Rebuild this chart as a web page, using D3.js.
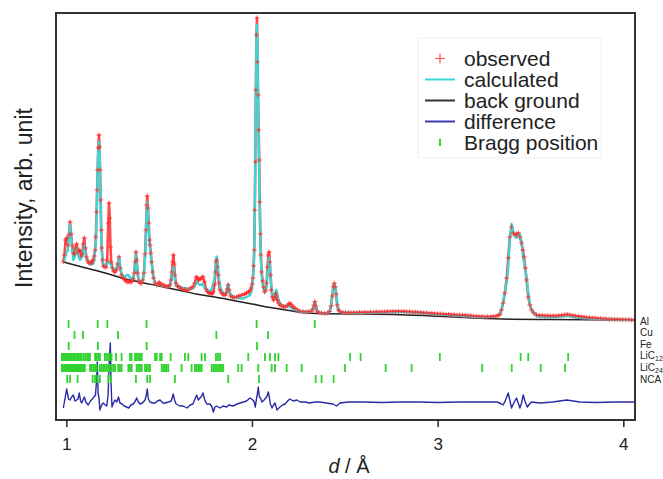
<!DOCTYPE html>
<html><head><meta charset="utf-8">
<script src="https://cdn.jsdelivr.net/npm/d3@7"></script>
<style>
body{margin:0;background:#fff;}
svg{display:block;font-family:"Liberation Sans",Arial,Helvetica,sans-serif;}
</style>
</head><body>
<svg id="c" width="663" height="479"></svg>
<script>
// ---------------- DATA ----------------
const dSpacing = [
0.984,0.990,0.996,1.002,1.008,1.014,1.020,1.026,1.032,1.038,
1.044,1.050,1.056,1.062,1.068,1.074,1.080,1.086,1.092,1.097,
1.102,1.108,1.115,1.122,1.128,1.135,1.140,1.145,1.150,1.155,
1.159,1.163,1.166,1.169,1.172,1.176,1.179,1.182,1.185,1.188,
1.191,1.195,1.200,1.208,1.214,1.220,1.226,1.230,1.234,1.238,
1.242,1.248,1.255,1.262,1.270,1.277,1.284,1.290,1.298,1.306,
1.316,1.326,1.334,1.344,1.352,1.360,1.366,1.371,1.375,1.379,
1.384,1.390,1.397,1.405,1.412,1.418,1.424,1.429,1.433,1.436,
1.440,1.444,1.448,1.451,1.455,1.460,1.465,1.470,1.478,1.487,
1.495,1.500,1.508,1.515,1.522,1.532,1.542,1.550,1.558,1.564,
1.569,1.573,1.577,1.581,1.585,1.590,1.597,1.605,1.615,1.625,
1.637,1.648,1.660,1.672,1.684,1.692,1.700,1.706,1.712,1.720,
1.728,1.736,1.744,1.752,1.760,1.768,1.776,1.785,1.792,1.798,
1.803,1.807,1.810,1.814,1.818,1.822,1.828,1.837,1.846,1.855,
1.862,1.867,1.872,1.877,1.885,1.895,1.905,1.918,1.930,1.945,
1.960,1.971,1.982,1.990,1.996,2.001,2.005,2.009,2.012,2.015,
2.018,2.021,2.024,2.027,2.030,2.033,2.036,2.039,2.042,2.045,
2.048,2.052,2.057,2.062,2.068,2.074,2.079,2.084,2.088,2.092,
2.096,2.100,2.105,2.110,2.116,2.122,2.127,2.132,2.137,2.143,
2.151,2.160,2.170,2.180,2.190,2.198,2.205,2.213,2.222,2.232,
2.245,2.260,2.275,2.290,2.305,2.318,2.328,2.334,2.339,2.344,
2.350,2.360,2.375,2.390,2.405,2.418,2.426,2.432,2.438,2.443,
2.448,2.453,2.459,2.466,2.474,2.489,2.504,2.519,2.534,2.549,
2.564,2.579,2.594,2.609,2.624,2.639,2.654,2.669,2.684,2.699,
2.714,2.729,2.744,2.759,2.774,2.789,2.804,2.819,2.834,2.849,
2.864,2.879,2.894,2.909,2.924,2.939,2.954,2.969,2.984,2.999,
3.014,3.029,3.044,3.059,3.074,3.089,3.104,3.119,3.134,3.149,
3.164,3.179,3.194,3.209,3.224,3.239,3.254,3.269,3.284,3.299,
3.314,3.325,3.335,3.344,3.353,3.362,3.372,3.380,3.389,3.398,
3.407,3.416,3.425,3.434,3.443,3.452,3.459,3.465,3.472,3.479,
3.488,3.497,3.506,3.519,3.533,3.548,3.563,3.578,3.593,3.608,
3.623,3.638,3.653,3.668,3.683,3.698,3.713,3.728,3.743,3.758,
3.773,3.788,3.803,3.818,3.833,3.848,3.863,3.878,3.893,3.908,
3.923,3.938,3.953,3.968,3.983,3.998,4.013,4.028,4.043,4.058];

const observed = [
68.3,75,90,92,85,95,108,96,84,77,
76,82,86,78,80,79,74,76,86,92,
82,73,69,67,66.7,67,69,70,74,80,
93,118,140,160,182,195,183,160,130,100,
82,70,64,63,63,70,107,127,112,83,
68,62,59,58,60,66,73,62,55,52,
50,48,48.3,48,48.3,51,57,68,78,70,
57,49,47,47,50,57,76,100,125,134,
122,107,90,85,77,68,58,52,47,45,
46,47.7,46,45,45,44,43.5,43.3,45,50,
58,68,75,66,55,47,44,43.3,42,41,
40.5,40,40.5,42,43.3,47,53,52,50,50.7,
52,53.3,48,41,38.5,37,36.7,36,38,45,
58,68,70,63,55,47,40,36.7,35.5,35,
37,41,45,40,34,33,32.5,33,34,35,
36,37,38,39.5,42,46,52,64,80,120,
168,240,295,312,268,235,200,170,128,96,
75,58,49,43,38,40,47,63,75,78,
68,55,40,33,30,33,36.7,34,30,27,
25,24,23.5,23,24.5,26,26.7,25,23,21.7,
20,18.5,18.3,18,18.3,18.5,21,25,28.3,24,
19,17.5,17,16.7,17,18.5,24,34,43.3,46.7,
43,36,25,20,18.3,17.6,17.2,17.4,17.1,17.5,
17.3,17.6,17.4,17.7,17.5,17.9,17.7,18.1,17.9,18.2,
18.0,18.4,18.2,18.6,18.4,18.7,18.4,18.6,18.2,18.3,
17.9,18.0,17.6,17.5,17.1,17.1,16.7,16.7,16.3,16.3,
15.9,15.9,15.5,15.6,15.2,15.3,14.9,15.0,14.6,14.6,
14.2,14.2,13.8,13.8,13.4,13.4,13.1,13.3,13.2,13.6,
13.9,14.5,15.5,20,27,37,52,72,93,103,
97,95,96,97,93,87,80,73,62,50,
33,25,20,17,15.0,14.4,14.5,14.1,14.3,13.9,
14.2,14.0,14.4,14.6,15.1,15.5,15.0,14.5,13.9,13.6,
13.1,12.9,12.4,12.3,11.9,11.9,11.5,11.5,11.1,11.1,
10.8,10.9,10.6,10.7,10.4,10.4,10.2,10.3,10.1,10.0];

const calculated = [
68,70,75,78,80,92,106,94,80,70,
72,78,82,76,72,70,72,74,80,86,
78,72,69,67,66,66,66,66,70,78,
88,110,135,157,178,188,180,158,128,98,
80,70,64,63,64,66,68,68,67,66,
64,62,60,59,62,66,73,63,56,54,
53,55,55,52,51,52,57,68,76,68,
57,50,48,48,50,56,72,95,120,128,
117,100,86,82,74,67,58,52,47,45,
45,46,45,44,44,44,43,43,44,49,
53,60,63,58,50,45,44,43,43,42,
42,41.5,41,41,42,44,48,48,46,45,
46,45,43,41,40,39,39,42,47,52,
62,72,73.3,68,60,52,44,39,37,36,
38,42,46,41,35,34,33,32.5,32,31.5,
32,33,34,35,38,43,50,62,78,118,
165,232,290,305,272,228,190,155,122,90,
70,56,47,42,38,40,45,58,68,72,
65,54,42,35,31,34,38,40,36,30,
27,25,24,24,24,23.5,23,22,21,20,
19.5,18.5,18.3,18,18.3,18.5,21,24,28,24,
19.5,17.5,17,16.7,17,18.5,24,33,42,46,
44,38,27,21,18.3,17.3,17.2,17.1,17.0,17.0,
17.0,17.0,17.0,17.1,17.1,17.2,17.3,17.4,17.5,17.6,
17.7,17.8,17.9,18.0,18.0,18.1,18.1,18.0,17.9,17.8,
17.6,17.4,17.2,17.0,16.8,16.6,16.4,16.1,15.9,15.7,
15.5,15.3,15.1,14.9,14.7,14.5,14.3,14.2,14.0,13.8,
13.6,13.4,13.2,13.0,12.9,12.8,12.8,12.9,13.1,13.4,
13.9,15,17,21,29,38,48,62,90,106,
99,94,92,95,96,88,74,68,60,53,
37,26,19.5,16,14.0,13.4,13.1,12.9,12.9,12.8,
12.8,12.9,13.1,13.4,13.8,14.1,13.6,13.0,12.6,12.3,
12.0,11.8,11.6,11.4,11.2,11.1,11.0,10.9,10.8,10.7,
10.6,10.5,10.5,10.4,10.4,10.3,10.2,10.2,10.1,10.0];

const bgD = [0.984,1.05,1.1,1.2,1.3,1.4,1.5,1.6,1.7,1.8,1.9,2.0,2.1,2.2,2.3,2.4,2.6,2.8,3.0,3.2,3.4,3.6,3.8,4.058];
const background = [68,64.8,62.3,57.5,52,47.7,44,40,36,33,29.5,26,22.5,19.5,17.0,16.3,16.0,15.3,13.8,12.0,10.8,10.5,10.3,10.0];

const diffD = [0.984,1.002,1.012,1.020,1.029,1.038,1.047,1.056,1.063,1.070,1.077,1.083,1.090,1.097,1.105,1.118,1.130,1.145,1.157,1.164,
1.167,1.171,1.176,1.181,1.190,1.199,1.210,1.218,1.225,1.231,1.237,1.241,1.246,1.254,1.262,1.272,1.281,1.289,1.300,1.312,
1.325,1.336,1.348,1.360,1.372,1.379,1.388,1.397,1.410,1.424,1.431,1.436,1.442,1.451,1.465,1.478,1.490,1.505,1.520,1.532,
1.550,1.565,1.576,1.583,1.591,1.612,1.630,1.650,1.668,1.682,1.695,1.702,1.711,1.720,1.729,1.736,1.746,1.756,1.774,1.785,
1.792,1.800,1.810,1.818,1.828,1.845,1.864,1.875,1.898,1.920,1.935,1.955,1.971,1.989,2.005,2.012,2.018,2.024,2.030,2.034,
2.040,2.046,2.054,2.065,2.079,2.088,2.094,2.099,2.108,2.116,2.124,2.135,2.145,2.151,2.165,2.178,2.192,2.204,2.222,2.241,
2.260,2.285,2.310,2.339,2.366,2.400,2.436,2.456,2.474,2.520,2.600,2.700,2.800,2.900,3.000,3.120,3.250,3.320,3.344,3.353,
3.366,3.380,3.390,3.398,3.410,3.425,3.434,3.443,3.452,3.461,3.472,3.483,3.495,3.506,3.551,3.620,3.695,3.766,3.850,3.950,4.058];
const difference = [-5,14,4,3,6,8,2,3,4,10,2,0,3,6,1,-2,2,5,8,25,
41,10,5,-7,-2,0,-2,-3,8,40,60,20,-4,0,3,1,6,0,-1,-3,
-4,-5,-2,-1,2,5,1,-1,0,3,8,14,4,1,0,0,2,3,0,0,
1,2,9,3,-1,-3,-3,-5,-2,-1,5,8,3,5,7,10,3,-1,-1,-4,
-9,-4,-3,-4,-5,-3,-4,-2,-3,-1,0,1,2,5,3,1,-4,4,10,16,
6,5,1,3,6,11,5,-1,-5,-2,0,-7,-5,-4,-2,-1,2,4,2,3,
1,1,0,1,1,0,-1,-3,0,1,1,0.5,1,1,0.5,1,1,1,-1,-2,
3,10,2,-5,0,5,0,-5,0,8,1,-4,-1,1,0,1,3,1,0.5,1,1];

const phases = ["Al","Cu","Fe","LiC12","LiC24","NCA"];
const braggAl = [1.012,1.169,1.221,1.432,2.025,2.338];
const braggCu = [1.044,1.090,1.278,1.808,2.087];
const braggFe = [1.013,1.170,1.433,2.027];
const braggLiC12 = [0.976,0.982,0.988,0.994,1.000,1.007,1.014,1.021,1.028,1.036,1.044,1.052,1.060,1.068,1.076,1.083,
1.093,1.102,1.112,1.120,1.128,1.155,1.163,1.172,1.181,1.208,1.217,1.226,1.235,1.244,1.268,1.298,1.343,1.352,1.370,1.379,
1.388,1.397,1.406,1.478,1.487,1.505,1.514,1.562,1.639,1.657,1.729,1.747,1.806,1.817,1.828,1.980,2.070,2.097,2.124,2.142,
2.528,2.585,3.012,3.447,3.488,3.703];
const braggLiC24 = [0.976,0.982,0.988,0.994,1.000,1.006,1.012,1.018,1.024,1.030,1.036,1.042,1.048,1.054,1.060,1.066,1.072,
1.078,1.085,1.092,1.100,1.128,1.137,1.146,1.155,1.164,1.181,1.190,1.199,1.208,1.218,1.226,1.235,1.244,1.253,1.262,1.280,
1.289,1.298,1.334,1.343,1.352,1.379,1.388,1.397,1.406,1.424,1.433,1.442,1.451,1.514,1.523,1.532,1.540,1.549,1.621,1.675,
1.693,1.702,1.711,1.720,1.729,1.783,1.792,1.801,1.810,1.819,1.828,1.837,1.845,1.926,1.944,2.034,2.106,2.124,2.187,2.268,
2.501,2.720,2.860,3.240,3.399,3.555,3.686];
const braggNCA = [1.005,1.020,1.061,1.142,1.155,1.167,1.181,1.226,1.241,1.375,1.436,1.451,1.585,1.872,2.038,2.343,2.375,2.440];
const braggLists = [braggAl,braggCu,braggFe,braggLiC12,braggLiC24,braggNCA];

const xTicks = [1,2,3,4];
const legendLabels = ["observed","calculated","back ground","difference","Bragg position"];

// ---------------- CHART ----------------
const svg = d3.select("#c");
const F = {l:56, r:635, t:13, b:420};
const x = d3.scaleLinear().domain([0.9445, 4.063]).range([F.l, F.r]);
const y = d3.scaleLinear().domain([0, 314]).range([330, 16]);
const diffOffset = -73;
const rowY = d3.scalePoint().domain(phases).range([324, 379]);
const labelY = d3.scalePoint().domain(phases).range([324.5, 382.5]);

const col = {obs:"#ff2a2a", calc:"#3dd6d6", bg:"#222222", diff:"#2a2aa6", bragg:"#2fd42f", frame:"#333333"};

svg.append("defs").append("clipPath").attr("id","clip")
  .append("rect").attr("x",F.l).attr("y",F.t).attr("width",F.r-F.l).attr("height",F.b-F.t);

const plot = svg.append("g").attr("clip-path","url(#clip)");

const n = Math.min(dSpacing.length, observed.length, calculated.length);
const obsPts = d3.range(n).map(i=>[dSpacing[i], observed[i]]);
const calcPts = d3.range(n).map(i=>[dSpacing[i], calculated[i]]);

const line = d3.line().x(p=>x(p[0])).y(p=>y(p[1]));

// background
plot.append("path").datum(d3.zip(bgD, background))
  .attr("d", d3.line().x(p=>x(p[0])).y(p=>y(p[1])).curve(d3.curveMonotoneX))
  .attr("fill","none").attr("stroke",col.bg).attr("stroke-width",1.5);

// observed line (under calc)
plot.append("path").datum(obsPts).attr("d", line)
  .attr("fill","none").attr("stroke",col.obs).attr("stroke-width",2.6).attr("stroke-opacity",0.85)
  .attr("stroke-linejoin","round");

// calculated
plot.append("path").datum(calcPts).attr("d", line)
  .attr("fill","none").attr("stroke",col.calc).attr("stroke-width",2.4).attr("stroke-linejoin","round");

// observed markers
plot.append("g").selectAll("path").data(obsPts).join("path")
  .attr("transform", p=>`translate(${x(p[0])},${y(p[1])})`)
  .attr("d","M-2.5,0H2.5M0,-2.5V2.5")
  .attr("stroke",col.obs).attr("stroke-width",1).attr("stroke-opacity",0.8).attr("fill","none");

// difference
plot.append("path").datum(d3.zip(diffD, difference))
  .attr("d", d3.line().x(p=>x(p[0])).y(p=>y(p[1]+diffOffset)))
  .attr("fill","none").attr("stroke",col.diff).attr("stroke-width",1.4).attr("stroke-linejoin","round");

// Bragg ticks
phases.forEach((ph,i)=>{
  plot.append("g").selectAll("line").data(braggLists[i]).join("line")
    .attr("x1",dv=>x(dv)).attr("x2",dv=>x(dv))
    .attr("y1",rowY(ph)-4).attr("y2",rowY(ph)+4)
    .attr("stroke",col.bragg).attr("stroke-width",1.8);
});

// phase labels on the right
phases.forEach(ph=>{
  const t = svg.append("text").attr("x",640).attr("y",labelY(ph))
    .attr("font-size",10).attr("fill","#222");
  const m = ph.match(/^(LiC)(\d+)$/);
  if(m){
    t.append("tspan").text(m[1]);
    t.append("tspan").attr("font-size",7).attr("dy",2).text(m[2]);
  } else t.text(ph);
});

// axis
const axis = d3.axisBottom(x).tickValues(xTicks).tickSize(7).tickPadding(11).tickFormat(d3.format("d"));
const ax = svg.append("g").attr("transform",`translate(0,${F.b})`).call(axis);
ax.select(".domain").remove();
ax.selectAll(".tick line").attr("stroke",col.frame).attr("stroke-width",1.6);
ax.selectAll(".tick text").attr("fill","#222").attr("font-size",17)
  .attr("font-family","'Liberation Sans',Arial,Helvetica,sans-serif");

// frame
svg.append("rect").attr("x",F.l).attr("y",F.t).attr("width",F.r-F.l).attr("height",F.b-F.t)
  .attr("fill","none").attr("stroke",col.frame).attr("stroke-width",2);

// axis titles
const xt = svg.append("text").attr("x",349).attr("y",473).attr("text-anchor","middle")
  .attr("font-size",20).attr("fill","#222");
xt.append("tspan").attr("font-style","italic").text("d");
xt.append("tspan").text(" / Å");

svg.append("text").attr("transform","translate(32,198) rotate(-90)").attr("text-anchor","middle")
  .attr("font-size",23).attr("fill","#222").text("Intensity, arb. unit");

// legend
const lg = svg.append("g");
lg.append("rect").attr("x",418).attr("y",38).attr("width",183).attr("height",120)
  .attr("fill","#fff").attr("stroke","#f0f0f0").attr("stroke-width",1);
const legY = d3.scalePoint().domain(legendLabels).range([58.5,142.5]);
legendLabels.forEach((lab,i)=>{
  const yy = legY(lab);
  if(i===0){
    lg.append("path").attr("transform",`translate(440,${yy})`).attr("d","M-5,0H5M0,-5V5")
      .attr("stroke","#ff5050").attr("stroke-width",1.2);
  } else if(i===4){
    lg.append("line").attr("x1",440).attr("x2",440).attr("y1",yy-3.5).attr("y2",yy+3.5)
      .attr("stroke",col.bragg).attr("stroke-width",2);
  } else {
    const c = [null,col.calc,"#333","#3b3bb0"][i];
    lg.append("line").attr("x1",425).attr("x2",455).attr("y1",yy).attr("y2",yy)
      .attr("stroke",c).attr("stroke-width",2);
  }
  lg.append("text").attr("x",464).attr("y",yy+7).attr("font-size",21).attr("fill","#222").text(lab);
});
</script>
</body></html>
